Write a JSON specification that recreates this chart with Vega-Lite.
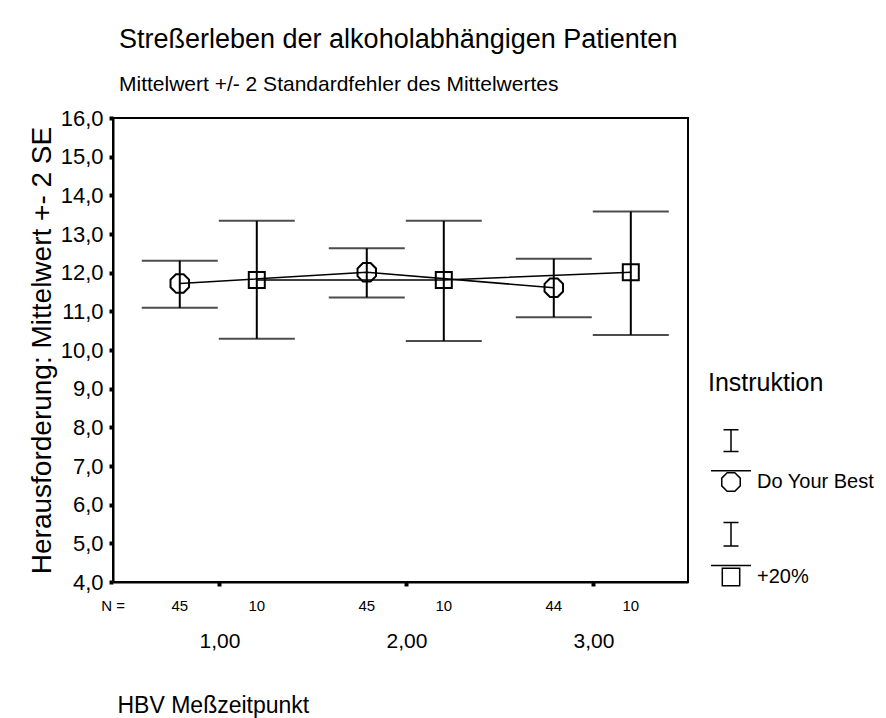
{
  "$schema": "https://vega.github.io/schema/vega-lite/v6.json",
  "width": 575,
  "height": 464,
  "autosize": "none",
  "padding": {"left": 113, "top": 118, "right": 198, "bottom": 136},
  "background": "white",
  "title": {
    "text": "Streßerleben der alkoholabhängigen Patienten",
    "subtitle": "Mittelwert +/- 2 Standardfehler des Mittelwertes",
    "anchor": "start",
    "frame": "group",
    "dx": 6,
    "offset": 11,
    "fontSize": 27,
    "fontWeight": "normal",
    "subtitleFontSize": 21,
    "subtitlePadding": 20,
    "color": "black",
    "subtitleColor": "black",
    "font": "Liberation Sans",
    "subtitleFont": "Liberation Sans"
  },
  "data": {
    "values": [
      {"zeit": "1,00", "Instruktion": "Do Your Best", "mean": 11.72, "lo": 11.09, "hi": 12.31, "n": 45},
      {"zeit": "1,00", "Instruktion": "+20%", "mean": 11.81, "lo": 10.29, "hi": 13.34, "n": 10},
      {"zeit": "2,00", "Instruktion": "Do Your Best", "mean": 12.01, "lo": 11.36, "hi": 12.63, "n": 45},
      {"zeit": "2,00", "Instruktion": "+20%", "mean": 11.81, "lo": 10.23, "hi": 13.34, "n": 10},
      {"zeit": "3,00", "Instruktion": "Do Your Best", "mean": 11.61, "lo": 10.85, "hi": 12.36, "n": 44},
      {"zeit": "3,00", "Instruktion": "+20%", "mean": 12.01, "lo": 10.39, "hi": 13.58, "n": 10}
    ]
  },
  "encoding": {
    "x": {
      "field": "zeit",
      "type": "nominal",
      "sort": ["1,00", "2,00", "3,00"],
      "scale": {"paddingInner": 0, "paddingOuter": 0.0374, "align": 0.96},
      "axis": {
        "title": "HBV Meßzeitpunkt",
        "titleFontSize": 23,
        "titleFontWeight": "normal",
        "titleColor": "black",
        "titleAnchor": "start",
        "titleAlign": "left",
        "titleX": 4,
        "titleY": 130,
        "titleBaseline": "alphabetic",
        "labelAngle": 0,
        "labelFontSize": 21,
        "labelColor": "black",
        "labelPadding": 44,
        "tickSize": 4,
        "tickWidth": 4,
        "tickColor": "black",
        "domainColor": "black",
        "domainWidth": 2,
        "grid": false
      }
    },
    "xOffset": {
      "field": "Instruktion",
      "type": "nominal",
      "sort": ["Do Your Best", "+20%"],
      "scale": {"paddingInner": 0, "paddingOuter": 0.214, "align": 0.45}
    }
  },
  "layer": [
    {
      "mark": {"type": "rule", "color": "black", "strokeWidth": 2},
      "encoding": {
        "y": {
          "field": "lo",
          "type": "quantitative",
          "scale": {"domain": [4, 16], "nice": false, "zero": false},
          "axis": {"title": "Herausforderung: Mittelwert +- 2 SE", "values": [4, 5, 6, 7, 8, 9, 10, 11, 12, 13, 14, 15, 16]}
        },
        "y2": {"field": "hi"}
      }
    },
    {
      "mark": {"type": "tick", "color": "black", "thickness": 2, "size": 76, "orient": "horizontal"},
      "encoding": {"y": {"field": "lo", "type": "quantitative", "axis": {"title": "Herausforderung: Mittelwert +- 2 SE", "values": [4, 5, 6, 7, 8, 9, 10, 11, 12, 13, 14, 15, 16]}}}
    },
    {
      "mark": {"type": "tick", "color": "black", "thickness": 2, "size": 76, "orient": "horizontal"},
      "encoding": {"y": {"field": "hi", "type": "quantitative", "axis": {"title": "Herausforderung: Mittelwert +- 2 SE", "values": [4, 5, 6, 7, 8, 9, 10, 11, 12, 13, 14, 15, 16]}}}
    },
    {
      "mark": {"type": "line", "color": "black", "strokeWidth": 1.5},
      "encoding": {
        "y": {"field": "mean", "type": "quantitative", "axis": {"title": "Herausforderung: Mittelwert +- 2 SE", "values": [4, 5, 6, 7, 8, 9, 10, 11, 12, 13, 14, 15, 16]}},
        "detail": {"field": "Instruktion"}
      }
    },
    {
      "mark": {"type": "point", "filled": false, "stroke": "black", "strokeWidth": 2, "size": 400, "opacity": 1},
      "encoding": {
        "y": {"field": "mean", "type": "quantitative", "axis": {"title": "Herausforderung: Mittelwert +- 2 SE", "values": [4, 5, 6, 7, 8, 9, 10, 11, 12, 13, 14, 15, 16]}},
        "shape": {
          "field": "Instruktion",
          "type": "nominal",
          "sort": ["Do Your Best", "+20%"],
          "scale": {
            "domain": ["Do Your Best", "+20%"],
            "range": [
              "M0.383,-0.924L0.924,-0.383L0.924,0.383L0.383,0.924L-0.383,0.924L-0.924,0.383L-0.924,-0.383L-0.383,-0.924Z",
              "M-0.8,-0.8L0.8,-0.8L0.8,0.8L-0.8,0.8Z"
            ]
          },
          "legend": null
        }
      }
    },
    {
      "mark": {"type": "point", "filled": false, "stroke": "black", "color": "black", "strokeWidth": 1.5, "size": 400, "opacity": 0},
      "encoding": {
        "y": {"field": "mean", "type": "quantitative", "axis": {"title": "Herausforderung: Mittelwert +- 2 SE", "values": [4, 5, 6, 7, 8, 9, 10, 11, 12, 13, 14, 15, 16]}},
        "shape": {
          "field": "Instruktion",
          "type": "nominal",
          "sort": ["Do Your Best", "+20%"],
          "scale": {
            "domain": ["Do Your Best", "+20%"],
            "range": [
              "M0.383,-0.924L0.924,-0.383L0.924,0.383L0.383,0.924L-0.383,0.924L-0.924,0.383L-0.924,-0.383L-0.383,-0.924Z M-2,-1.12L2,-1.12 M-0.75,-5.23L0.75,-5.23 M0,-5.23L0,-3.04 M-0.75,-3.04L0.75,-3.04",
              "M-0.87,-0.87L0.87,-0.87L0.87,0.87L-0.87,0.87Z M-2,-1.15L2,-1.15 M-0.75,-5.45L0.75,-5.45 M0,-5.45L0,-3.1 M-0.75,-3.1L0.75,-3.1"
            ]
          },
          "legend": {
            "title": "Instruktion",
            "orient": "none",
            "legendX": 595,
            "legendY": 253,
            "titleFontSize": 25,
            "titleFontWeight": "normal",
            "titleColor": "black",
            "titlePadding": 75,
            "labelFontSize": 20,
            "labelColor": "black",
            "symbolSize": 400,
            "symbolStrokeColor": "black",
            "symbolStrokeWidth": 1.5,
            "symbolFillColor": "transparent",
            "symbolOpacity": 1,
            "symbolOffset": 12,
            "labelOffset": 15,
            "rowPadding": 24
          }
        }
      }
    },
    {
      "mark": {"type": "text", "fontSize": 15, "color": "black", "baseline": "middle", "align": "center"},
      "encoding": {
        "y": {"datum": 3.38, "type": "quantitative", "axis": {"title": "Herausforderung: Mittelwert +- 2 SE", "values": [4, 5, 6, 7, 8, 9, 10, 11, 12, 13, 14, 15, 16]}},
        "text": {"field": "n"}
      }
    },
    {
      "data": {"values": [{"label": "N ="}]},
      "mark": {"type": "text", "fontSize": 15, "color": "black", "baseline": "middle", "align": "center"},
      "encoding": {
        "x": {"value": 0},
        "xOffset": null,
        "y": {"datum": 3.38, "type": "quantitative", "axis": {"title": "Herausforderung: Mittelwert +- 2 SE", "values": [4, 5, 6, 7, 8, 9, 10, 11, 12, 13, 14, 15, 16]}},
        "text": {"field": "label"}
      }
    }
  ],
  "resolve": {"scale": {"shape": "independent"}},
  "config": {
    "font": "Liberation Sans",
    "view": {"stroke": "black", "strokeWidth": 2},
    "axis": {"labelFont": "Liberation Sans", "titleFont": "Liberation Sans"},
    "axisY": {
      "titleFontSize": 28,
      "titleFontWeight": "normal",
      "titleColor": "black",
      "titlePadding": 4,
      "labelOverlap": false,
      "labelExpr": "replace(format(datum.value, '.1f'), '.', ',')",
      "labelFontSize": 22,
      "labelColor": "black",
      "labelPadding": 6,
      "tickSize": 4,
      "tickWidth": 4,
      "tickColor": "black",
      "domainColor": "black",
      "domainWidth": 2,
      "grid": false
    },
    "legend": {"labelFont": "Liberation Sans", "titleFont": "Liberation Sans"}
  }
}
